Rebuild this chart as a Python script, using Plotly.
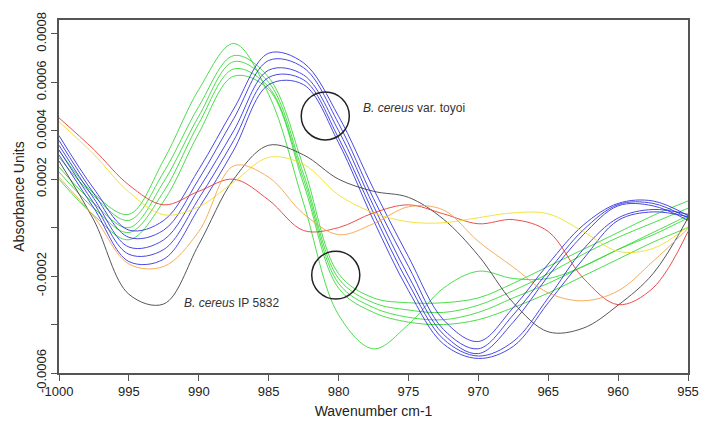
import plotly.graph_objects as go

SCALE = 1e-4
wavenumber = [1000, 997.5, 995, 992.5, 990, 987.5, 985, 982.5, 980, 977.5,
              975, 972.5, 970, 967.5, 965, 962.5, 960, 957.5, 955]

green_1 = [3.2, 1.4, 0.55, 2.8, 5.7, 7.6, 5.5, 1.0, -3.6, -5.0, -4.0, -2.5, -1.8, -2.1, -2.1, -1.6, -0.9, -0.2, 0.5]
green_2 = [2.9, 1.3, 0.3, 2.3, 5.0, 7.1, 6.2, 2.5, -1.9, -2.9, -3.1, -3.1, -2.9, -2.3, -1.6, -0.9, -0.2, 0.5, 1.1]
green_3 = [2.5, 1.0, 0.0, 1.9, 4.6, 6.85, 6.0, 2.2, -2.1, -3.1, -3.4, -3.5, -3.2, -2.6, -1.9, -1.1, -0.4, 0.2, 0.8]
green_4 = [2.3, 0.8, -0.2, 1.5, 4.3, 6.55, 5.8, 2.0, -2.3, -3.3, -3.7, -3.8, -3.5, -2.9, -2.3, -1.6, -0.9, -0.3, 0.4]
green_5 = [2.0, 0.5, -0.5, 1.1, 3.9, 6.25, 5.7, 1.8, -2.5, -3.5, -3.9, -4.0, -3.8, -3.3, -2.7, -2.0, -1.3, -0.6, 0.0]

blue_1 = [3.8, 1.6, -0.1, 0.3, 2.4, 4.9, 7.2, 6.8, 4.6, 1.6, -1.2, -3.8, -4.7, -3.3, -1.5, 0.1, 1.0, 1.1, 0.5]
blue_2 = [3.6, 1.4, -0.4, -0.1, 2.0, 4.5, 6.9, 6.6, 4.3, 1.2, -1.6, -4.2, -5.0, -3.6, -1.8, -0.1, 0.95, 1.0, 0.4]
blue_3 = [3.4, 1.2, -0.8, -0.5, 1.6, 4.0, 6.5, 6.3, 4.0, 0.9, -2.0, -4.4, -5.2, -3.9, -2.0, -0.3, 0.9, 0.9, 0.3]
blue_4 = [3.2, 1.0, -1.1, -0.9, 1.2, 3.6, 6.2, 6.1, 3.7, 0.6, -2.3, -4.6, -5.3, -4.7, -2.9, -0.9, 0.4, 0.75, 0.55]
blue_5 = [3.0, 0.8, -1.4, -1.3, 0.8, 3.2, 5.9, 5.9, 3.5, 0.3, -2.6, -4.8, -5.4, -4.9, -3.1, -1.3, 0.3, 0.65, 0.45]

black = [2.75, 0.3, -2.75, -3.15, -0.7, 2.0, 3.4, 3.0, 2.0, 1.5, 1.25, 0.35, -1.15, -3.1, -4.3, -4.15, -3.2, -1.9, 0.4]
red = [4.53, 3.22, 1.76, 0.94, 1.5, 2.0, 1.14, -0.12, 0.0, 0.61, 0.94, 0.57, 0.16, 0.33, -0.16, -2.08, -3.18, -2.49, -0.16]
yellow = [4.37, 3.02, 1.47, 0.53, 0.86, 1.88, 2.9, 2.61, 1.35, 0.61, 0.24, 0.2, 0.41, 0.61, 0.57, -0.16, -0.98, -0.86, 0.04]
orange = [2.08, 0.45, -1.5, -1.6, -0.16, 2.55, 2.08, 0.57, -0.29, 0.16, 0.86, 0.73, -0.57, -1.63, -2.69, -3.02, -2.61, -1.39, -0.04]

series = [
    (green_1, "#2fd82f"), (green_2, "#2fd82f"), (green_3, "#2fd82f"),
    (green_4, "#2fd82f"), (green_5, "#2fd82f"),
    (blue_1, "#2a2ae0"), (blue_2, "#2a2ae0"), (blue_3, "#2a2ae0"),
    (blue_4, "#2a2ae0"), (blue_5, "#2a2ae0"),
    (black, "#3a3a3a"), (red, "#e83030"), (yellow, "#f0e020"), (orange, "#f8a040"),
]

y_tickvals = [-6, -4, -2, 0, 2, 4, 6, 8]
y_ticktext = ["-0.0006", "", "-0.0002", "", "0.0002", "0.0004", "0.0006", "0.0008"]
x_tickvals = [1000, 995, 990, 985, 980, 975, 970, 965, 960, 955]

fig = go.Figure()
for vals, col in series:
    fig.add_trace(go.Scatter(
        x=wavenumber, y=[v * SCALE for v in vals], mode="lines",
        line=dict(color=col, width=1, shape="spline", smoothing=1.0),
        opacity=0.85, showlegend=False, hoverinfo="skip"))

FONT = "Liberation Sans, Arial, sans-serif"
fig.update_layout(
    width=711, height=432,
    margin=dict(l=59, r=19, t=16, b=59),
    paper_bgcolor="white", plot_bgcolor="white",
    font=dict(family=FONT, size=12, color="#222"),
    xaxis=dict(range=[1000, 955], tickvals=x_tickvals, ticks="outside", ticklen=6,
               tickcolor="#555", showline=True, linecolor="#555", linewidth=1.5,
               mirror=True, showgrid=False, zeroline=False,
               title=dict(text="Wavenumber cm-1", font=dict(size=14), standoff=8),
               tickfont=dict(size=13)),
    yaxis=dict(range=[-6 * SCALE, 8.57 * SCALE],
               tickvals=[v * SCALE for v in y_tickvals], ticktext=y_ticktext,
               tickangle=-90, ticks="outside", ticklen=6, tickcolor="#555",
               showline=True, linecolor="#555", linewidth=1.5, mirror=True,
               showgrid=False, zeroline=False,
               title=dict(text="Absorbance Units", font=dict(size=14), standoff=6),
               tickfont=dict(size=13)),
)

circles = [(980.95, 4.61), (980.2, -1.96)]
for cx, cy in circles:
    fig.add_shape(type="circle", xref="x", yref="y",
                  x0=cx + 1.72, x1=cx - 1.72,
                  y0=(cy - 0.99) * SCALE, y1=(cy + 0.99) * SCALE,
                  line=dict(color="#222", width=1.5))

fig.add_annotation(x=978.4, y=4.95 * SCALE, xref="x", yref="y",
                   text="<i>B. cereus</i> var. toyoi", showarrow=False,
                   xanchor="left", font=dict(size=12, color="#333"))
fig.add_annotation(x=991.2, y=-3.1 * SCALE, xref="x", yref="y",
                   text="<i>B. cereus</i> IP 5832", showarrow=False,
                   xanchor="left", font=dict(size=12, color="#333"))

fig.write_html("out.html")
